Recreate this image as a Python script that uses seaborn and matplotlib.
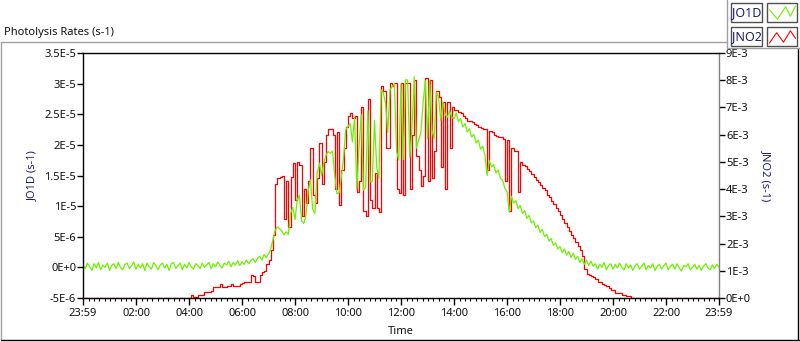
import numpy as np
import pandas as pd
import matplotlib
matplotlib.use('Agg')
import matplotlib.pyplot as plt
from matplotlib.lines import Line2D
from matplotlib.patches import Rectangle
import seaborn as sns

# minutes after 23:59 of the previous day, one sample every 5 min
minutes = np.arange(0, 1441, 5)

# JO1D in 1E-6 s-1, one row per hour
jo1d = [
    0.4, -0.2, 0.7, 0.1, -0.5, 0.6, -0.1, 0.8, -0.4, 0.4, 0.0, 0.7,
    -0.5, 0.3, 0.6, -0.2, 0.8, 0.0, -0.4, 0.5, 0.7, -0.2, 0.3, 0.9,
    -0.3, 0.5, -0.1, 0.6, -0.5, 0.7, 0.1, -0.3, 0.8, 0.3, -0.4, 0.4,
    0.7, -0.1, 0.5, -0.5, 0.6, 0.8, -0.2, 0.3, 0.7, -0.4, 0.5, -0.1,
    0.8, 0.1, -0.3, 0.6, 0.3, -0.2, 0.7, 0.0, 0.4, 0.8, -0.2, 0.6,
    0.1, 0.9, 0.3, -0.1, 0.7, 0.4, 1.0, 0.1, 0.8, 0.4, 1.1, 0.3,
    0.9, 0.5, 1.2, 0.6, 1.1, 1.4, 0.8, 1.5, 1.8, 1.2, 2.1, 1.6,
    2.2, 3.0, 4.5, 6.0, 6.6, 6.3, 6.0, 5.3, 5.8, 5.4, 8.8, 9.8,
    7.8, 11.0, 11.8, 7.5, 7.2, 8.5, 12.6, 14.3, 9.5, 8.8, 15.3, 17.0,
    15.0, 17.0, 18.3, 18.9, 18.6, 19.0, 15.0, 12.0, 12.2, 14.8, 18.0, 22.5,
    23.0, 23.5, 20.5, 24.5, 12.8, 19.7, 25.0, 12.6, 13.1, 25.6, 14.0, 14.0,
    24.0, 16.4, 14.5, 29.0, 28.5, 26.8, 22.0, 29.0, 29.5, 30.0, 19.0, 17.5,
    30.0, 17.6, 30.6, 30.6, 18.0, 23.0, 31.1, 19.5, 20.8, 22.0, 26.8, 30.5,
    21.0, 30.6, 22.4, 21.0, 28.6, 27.8, 24.0, 27.0, 25.0, 24.5, 25.6, 24.5,
    24.3, 25.2, 23.8, 24.3, 22.9, 23.5, 22.1, 22.6, 21.3, 21.7, 20.3, 20.8,
    19.3, 19.8, 18.3, 15.0, 17.4, 16.4, 16.8, 15.4, 15.9, 14.6, 14.3, 12.9,
    12.4, 9.0, 11.6, 10.5, 10.9, 9.6, 10.1, 8.8, 9.3, 8.0, 8.5, 7.3,
    7.6, 6.5, 6.9, 5.7, 6.2, 5.0, 5.4, 4.3, 4.7, 3.6, 4.0, 3.0,
    3.4, 2.4, 3.0, 2.0, 2.6, 1.6, 2.3, 1.3, 1.8, 0.8, 1.4, 0.5,
    1.2, 0.3, 1.0, 0.2, 0.6, -0.3, 0.5, 0.0, 0.8, -0.4, 0.3, 0.6,
    -0.3, 0.5, -0.1, 0.7, 0.0, -0.4, 0.6, -0.1, 0.4, -0.5, 0.3, 0.6,
    -0.3, 0.2, 0.7, -0.4, 0.3, -0.1, 0.6, -0.5, 0.2, 0.5, -0.3, 0.3,
    0.7, -0.4, 0.2, 0.5, -0.3, 0.6, -0.1, -0.6, 0.3, 0.1, 0.6, -0.4,
    0.0, 0.5, -0.3, 0.3, -0.5, 0.2, 0.6, -0.1, -0.4, 0.4, -0.2, 0.5,
    0.0,
]

# JNO2 in 1E-3 s-1, one row per hour
jno2 = [
    0, 0, 0, 0, 0, 0, 0, 0, 0, 0, 0, 0,
    0, 0, 0, 0, 0, 0, 0, 0, 0, 0, 0, 0,
    0, 0, 0, 0, 0, 0, 0, 0, 0, 0, 0, 0,
    0, 0, 0, 0, 0, 0, 0, 0, 0, 0, 0, 0,
    0, 0.1, 0.05, 0.05, 0.12, 0.12, 0.12, 0.22, 0.22, 0.22, 0.25, 0.42,
    0.42, 0.42, 0.5, 0.42, 0.42, 0.45, 0.45, 0.5, 0.45, 0.45, 0.45, 0.5,
    0.55, 0.6, 0.6, 0.6, 0.85, 0.8, 0.6, 0.6, 0.85, 0.95, 1.0, 1.25,
    1.4, 1.75, 2.3, 4.2, 4.4, 4.45, 4.5, 2.9, 4.3, 2.6, 4.45, 4.95,
    3.6, 5.0, 4.9, 3.0, 4.0, 3.5, 4.3, 5.5, 3.8, 3.5, 4.4, 5.7,
    4.2, 5.0, 6.0, 6.2, 6.2, 6.0, 4.0, 6.1, 3.4, 4.7, 5.5, 6.3,
    6.7, 6.8, 6.6, 6.7, 3.9, 4.3, 7.0, 3.2, 3.0, 7.3, 3.6, 3.3,
    4.6, 3.3, 3.15, 7.8, 7.6, 5.5, 5.5, 7.9, 7.8, 7.9, 4.0, 3.85,
    7.9, 3.8, 7.9, 7.9, 4.0, 6.0, 8.0, 5.2, 4.7, 4.1, 4.5, 8.1,
    4.3, 8.0, 4.4, 5.4, 7.6, 7.4, 4.8, 7.2, 4.0, 7.2, 5.5, 7.0,
    6.9, 6.9, 6.85, 6.8, 6.7, 6.6, 6.5, 6.5, 6.45, 6.4, 6.35, 6.3,
    6.25, 6.2, 6.2, 4.7, 6.15, 6.1, 6.0, 5.95, 5.9, 5.9, 5.85, 4.3,
    5.8, 3.2, 5.5, 5.4, 5.4, 3.9, 5.0, 4.9, 4.85, 4.75, 4.65, 4.55,
    4.45, 4.35, 4.25, 4.15, 4.05, 3.95, 3.8, 3.7, 3.55, 3.45, 3.3, 3.2,
    3.05, 2.9, 2.75, 2.6, 2.45, 2.3, 2.2, 2.05, 1.9, 1.75, 1.55, 1.05,
    0.9, 0.85, 0.8, 0.77, 0.7, 0.6, 0.58, 0.5, 0.48, 0.45, 0.35, 0.3,
    0.28, 0.2, 0.18, 0.18, 0.1, 0.1, 0.08, 0.08, 0, 0, 0, 0,
    0, 0, 0, 0, 0, 0, 0, 0, 0, 0, 0, 0,
    0, 0, 0, 0, 0, 0, 0, 0, 0, 0, 0, 0,
    0, 0, 0, 0, 0, 0, 0, 0, 0, 0, 0, 0,
    0,
]

time_ticks = [0, 121, 241, 361, 481, 601, 721, 841, 961, 1081, 1201, 1321, 1440]
time_labels = ['23:59', '02:00', '04:00', '06:00', '08:00', '10:00', '12:00',
               '14:00', '16:00', '18:00', '20:00', '22:00', '23:59']
jo1d_ticks = [-5e-6, 0, 5e-6, 1e-5, 1.5e-5, 2e-5, 2.5e-5, 3e-5, 3.5e-5]
jo1d_labels = ['-5E-6', '0E+0', '5E-6', '1E-5', '1.5E-5', '2E-5', '2.5E-5', '3E-5', '3.5E-5']
jno2_ticks = [0, 1e-3, 2e-3, 3e-3, 4e-3, 5e-3, 6e-3, 7e-3, 8e-3, 9e-3]
jno2_labels = ['0E+0', '1E-3', '2E-3', '3E-3', '4E-3', '5E-3', '6E-3', '7E-3', '8E-3', '9E-3']

df = pd.DataFrame({'minute': minutes,
                   'JO1D': np.array(jo1d) * 1e-6,
                   'JNO2': np.array(jno2) * 1e-3})

sns.set_style('white')
plt.rcParams['font.family'] = ['Noto Sans', 'DejaVu Sans']

W, H = 800, 342
def fx(x):
    return x / W
def fy(y):
    return 1 - y / H

green = '#6cf000'
red = '#ff0000'
navy = '#1c1c6c'
txt = '#111111'

fig = plt.figure(figsize=(8, 3.42), dpi=100)
ax = fig.add_axes([fx(83), fy(298), 636 / W, 245 / H])
ax2 = ax.twinx()

sns.lineplot(data=df, x='minute', y='JNO2', ax=ax2, color=red, lw=0.9,
             drawstyle='steps-post', errorbar=None, legend=False)
sns.lineplot(data=df, x='minute', y='JO1D', ax=ax, color=green, lw=0.9,
             errorbar=None, legend=False)
# green trace sits above the red one
ax.set_zorder(ax2.get_zorder() + 1)
ax.patch.set_visible(False)

ax.set_xlim(0, 1440)
ax.set_ylim(-5e-6, 3.5e-5)
ax2.set_ylim(0, 9e-3)

ax.set_yticks(jo1d_ticks, jo1d_labels)
ax2.set_yticks(jno2_ticks, jno2_labels)
ax.set_xticks(time_ticks, time_labels)
ax.set_xticks(np.arange(13, 1440, 12), minor=True)

for s in ['left', 'top', 'bottom']:
    ax.spines[s].set_color('black')
    ax.spines[s].set_linewidth(1)
ax.spines['right'].set_visible(False)
for s in ['left', 'top', 'bottom']:
    ax2.spines[s].set_visible(False)
ax2.spines['right'].set_color('#808080')
ax2.spines['right'].set_linewidth(1)

ax.tick_params(axis='y', direction='out', length=4, width=1, color='black',
               labelsize=8, labelcolor=txt, pad=1, left=True)
ax2.tick_params(axis='y', direction='out', length=4, width=1, color='black',
                labelsize=8, labelcolor=txt, pad=1, right=True)
ax.tick_params(axis='x', which='major', direction='out', length=5, width=1,
               color='black', labelsize=8, labelcolor=txt, pad=2, bottom=True)
ax.tick_params(axis='x', which='minor', direction='out', length=2.5, width=0.8,
               color='black', bottom=True)

ax.set_xlabel('Time', fontsize=8, color=txt, va='center')
ax.xaxis.set_label_coords(0.5, -(331 - 298) / 245)
ax.set_ylabel('JO1D (s-1)', fontsize=8, color=navy, va='center')
ax.yaxis.set_label_coords((33 - 83) / 636, 0.5)
ax2.set_ylabel('JNO2 (s-1)', fontsize=8, color=navy, rotation=-90, va='center')
ax2.yaxis.set_label_coords((766 - 83) / 636, 0.5)

fig.text(fx(4), fy(35.5), 'Photolysis Rates (s-1)', fontsize=8, color=txt, va='baseline')

# outer frame of the graph panel
frame = '#a0a0a0'
fig.add_artist(Line2D([fx(0.5), fx(727)], [fy(42), fy(42)], color=frame, lw=1))
fig.add_artist(Line2D([fx(0.5), fx(0.5)], [fy(42), fy(340)], color=frame, lw=1))
fig.add_artist(Line2D([fx(0.5), fx(799)], [fy(340), fy(340)], color='black', lw=1))
fig.add_artist(Line2D([fx(798), fx(798)], [fy(48), fy(340)], color='black', lw=1))

# legend panel
fig.add_artist(Line2D([fx(727), fx(727)], [fy(0), fy(48)], color=frame, lw=1))
fig.add_artist(Line2D([fx(727), fx(799)], [fy(48), fy(48)], color=frame, lw=1))
legend_rows = [('JO1D', green, [(0.08, 0.35), (0.35, 0.85), (0.62, 0.2), (0.78, 0.7), (0.95, 0.15)]),
               ('JNO2', red, [(0.08, 0.85), (0.32, 0.3), (0.55, 0.8), (0.78, 0.2), (0.95, 0.6)])]
for k, (name, col, zz) in enumerate(legend_rows):
    top = 3 + k * 24
    fig.add_artist(Rectangle((fx(731), fy(top + 19)), 31 / W, 19 / H, transform=fig.transFigure,
                             fill=False, edgecolor='#505050', lw=1))
    fig.text(fx(746.5), fy(top + 9.5), name, fontsize=9, color=navy, ha='center', va='center')
    fig.add_artist(Rectangle((fx(767), fy(top + 19)), 30 / W, 19 / H, transform=fig.transFigure,
                             fill=False, edgecolor='#505050', lw=1))
    xs = [fx(767 + 30 * p[0]) for p in zz]
    ys = [fy(top + 19 * p[1]) for p in zz]
    fig.add_artist(Line2D(xs, ys, color=col, lw=0.8))

fig.savefig('out.png', dpi=100)
